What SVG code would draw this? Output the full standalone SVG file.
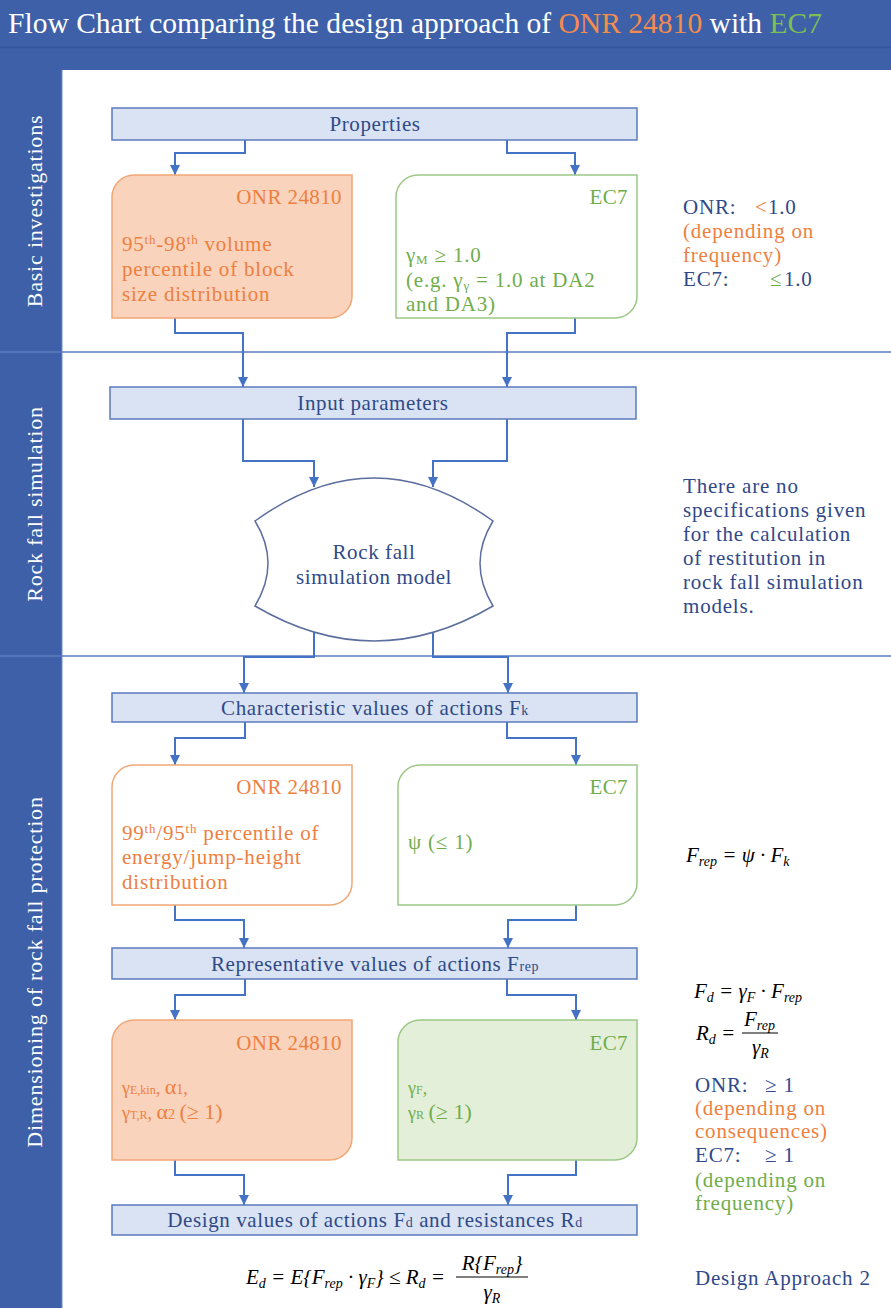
<svg xmlns="http://www.w3.org/2000/svg" width="891" height="1308" viewBox="0 0 891 1308" font-family="'Liberation Serif', 'DejaVu Serif', serif">
<defs>
<marker id="arr" viewBox="0 0 10 10" refX="10" refY="5" markerWidth="10" markerHeight="11" markerUnits="userSpaceOnUse" orient="auto"><path d="M0,0 L10,5 L0,10 Z" fill="#4472C4"/></marker>
<style>
text{font-family:'Liberation Serif','DejaVu Serif',serif}
.t{font-size:21px;letter-spacing:0.8px}
.bar{fill:#DAE3F3;stroke:#5B7BBE;stroke-width:1.5}
.btxt{font-size:21px;fill:#2F4A88;text-anchor:middle;letter-spacing:0.6px}
.hd{font-size:21px;text-anchor:end;letter-spacing:0.4px}
.on{fill:#EE7F3F}
.ec{fill:#6FAD4B}
.bl{fill:#30498A}
.onrbox{stroke:#F2A777;stroke-width:1.5}
.ecbox{stroke:#9CC886;stroke-width:1.5}
.conn path{fill:none;stroke:#4472C4;stroke-width:2;marker-end:url(#arr)}
.m{font-style:italic;font-size:21px;fill:#000}
.side{font-size:22px;fill:#fff;text-anchor:middle;letter-spacing:0.8px}
.sec{stroke:#5B7BBE;stroke-width:1.5}
</style>
</defs>

<!-- background -->
<rect x="0" y="0" width="891" height="1308" fill="#3D60A8"/>
<line x1="0" y1="47.5" x2="891" y2="47.5" stroke="#33569C" stroke-width="1.5"/>
<rect x="62" y="70" width="829" height="1238" fill="#FFFFFF"/>
<line x1="62" y1="70" x2="62" y2="1308" stroke="#6F8ECB" stroke-width="1"/>
<text x="8" y="33" font-size="30" fill="#FFFFFF" textLength="814" lengthAdjust="spacingAndGlyphs">Flow Chart comparing the design approach of <tspan fill="#F58B4C">ONR 24810</tspan> with <tspan fill="#7DBF55">EC7</tspan></text>

<!-- section dividers -->
<g id="sections">
<line class="sec" x1="0" y1="352" x2="891" y2="352"/>
<line class="sec" x1="0" y1="656" x2="891" y2="656"/>
<text class="side" transform="translate(42,211) rotate(-90)">Basic investigations</text>
<text class="side" transform="translate(42,504) rotate(-90)">Rock fall simulation</text>
<text class="side" transform="translate(42,972) rotate(-90)">Dimensioning of rock fall protection</text>
</g>

<!-- connectors -->
<g id="connectors" class="conn">
<path d="M245,140 V153 H175 V175"/>
<path d="M507,140 V153 H575 V175"/>
<path d="M175,318 V333 H243 V387"/>
<path d="M575,318 V333 H507 V387"/>
<path d="M243,419 V461 H314 V487"/>
<path d="M507,419 V461 H433 V487"/>
<path d="M314,632 V657 H244 V693"/>
<path d="M433,632 V657 H508 V693"/>
<path d="M245,722 V738 H175 V765"/>
<path d="M507,722 V738 H576 V765"/>
<path d="M175,905 V920 H244 V948"/>
<path d="M576,905 V920 H508 V948"/>
<path d="M245,979 V995 H175 V1020"/>
<path d="M507,979 V995 H576 V1020"/>
<path d="M175,1160 V1175 H244 V1205"/>
<path d="M576,1160 V1175 H508 V1205"/>
</g>

<!-- Basic investigations -->
<g id="properties">
<rect class="bar" x="112" y="108" width="525" height="32"/>
<text class="btxt" x="375" y="131">Properties</text>
</g>
<g id="onr1">
<path class="onrbox" fill="#FAD3BC" d="M112,197 A22,22 0 0 1 134,175 H352 V296 A22,22 0 0 1 330,318 H112 Z"/>
<text class="hd on" x="342" y="204">ONR 24810</text>
<text class="t on" x="122" y="251">95<tspan font-size="13" dy="-7">th</tspan><tspan dy="7">-98</tspan><tspan font-size="13" dy="-7">th</tspan><tspan dy="7"> volume</tspan></text>
<text class="t on" x="122" y="276">percentile of block</text>
<text class="t on" x="122" y="301">size distribution</text>
</g>
<g id="ec71">
<path class="ecbox" fill="#FFFFFF" d="M396,197 A22,22 0 0 1 418,175 H637 V296 A22,22 0 0 1 615,318 H396 Z"/>
<text class="hd ec" x="628" y="204">EC7</text>
<text class="t ec" x="406" y="262">γ<tspan font-size="13" dy="2">M</tspan><tspan dy="-2"> ≥ 1.0</tspan></text>
<text class="t ec" x="406" y="287">(e.g. γ<tspan font-size="13" dy="3">γ</tspan><tspan dy="-3"> = 1.0 at DA2</tspan></text>
<text class="t ec" x="406" y="311">and DA3)</text>
</g>
<g id="note1" class="t">
<text x="683" y="214" class="t bl">ONR:</text>
<text x="755" y="214" class="t on">&lt;</text>
<text x="768" y="214" class="t bl">1.0</text>
<text x="683" y="238" class="t on">(depending on</text>
<text x="683" y="262" class="t on">frequency)</text>
<text x="683" y="286" class="t bl">EC7:</text>
<text x="770" y="286" class="t ec">≤</text>
<text x="784" y="286" class="t bl">1.0</text>
</g>

<!-- Rock fall simulation -->
<g id="input">
<rect class="bar" x="110" y="387" width="526" height="32"/>
<text class="btxt" x="373" y="410">Input parameters</text>
</g>
<g id="model">
<path d="M255,521 Q374,435 493,521 Q467,563 493,606 Q374,676 255,606 Q281,563 255,521 Z" fill="#FFFFFF" stroke="#5B6E9E" stroke-width="1.5"/>
<text class="btxt" x="374" y="559">Rock fall</text>
<text class="btxt" x="374" y="584">simulation model</text>
</g>
<g id="note2">
<text class="t bl" x="683" y="493">There are no</text>
<text class="t bl" x="683" y="517">specifications given</text>
<text class="t bl" x="683" y="541">for the calculation</text>
<text class="t bl" x="683" y="565">of restitution in</text>
<text class="t bl" x="683" y="589">rock fall simulation</text>
<text class="t bl" x="683" y="613">models.</text>
</g>

<!-- Dimensioning -->
<g id="charval">
<rect class="bar" x="112" y="693" width="525" height="29"/>
<text class="btxt" x="375" y="715">Characteristic values of actions F<tspan font-size="14">k</tspan></text>
</g>
<g id="onr2">
<path class="onrbox" fill="#FFFFFF" d="M112,787 A22,22 0 0 1 134,765 H352 V883 A22,22 0 0 1 330,905 H112 Z"/>
<text class="hd on" x="342" y="794">ONR 24810</text>
<text class="t on" x="122" y="840">99<tspan font-size="13" dy="-7">th</tspan><tspan dy="7">/95</tspan><tspan font-size="13" dy="-7">th</tspan><tspan dy="7"> percentile of</tspan></text>
<text class="t on" x="122" y="864">energy/jump-height</text>
<text class="t on" x="122" y="889">distribution</text>
</g>
<g id="ec72">
<path class="ecbox" fill="#FFFFFF" d="M398,787 A22,22 0 0 1 420,765 H637 V883 A22,22 0 0 1 615,905 H398 Z"/>
<text class="hd ec" x="628" y="794">EC7</text>
<text class="t ec" x="408" y="849">ψ (≤ 1)</text>
</g>
<g id="f1">
<text class="m" x="686" y="862">F<tspan font-size="14" dy="4">rep</tspan><tspan dy="-4"> = ψ · F</tspan><tspan font-size="14" dy="4">k</tspan></text>
</g>

<g id="repval">
<rect class="bar" x="112" y="948" width="525" height="31"/>
<text class="btxt" x="375" y="971">Representative values of actions F<tspan font-size="14">rep</tspan></text>
</g>
<g id="onr3">
<path class="onrbox" fill="#FAD3BC" d="M112,1042 A22,22 0 0 1 134,1020 H352 V1138 A22,22 0 0 1 330,1160 H112 Z"/>
<text class="hd on" x="342" y="1050">ONR 24810</text>
<text class="on" x="122" y="1094" font-size="18">γ<tspan font-size="12">E,kin</tspan>, <tspan font-size="22">α</tspan><tspan font-size="14">1</tspan>,</text>
<text class="on" x="122" y="1119" font-size="18">γ<tspan font-size="12">T,R</tspan>, <tspan font-size="22">α</tspan><tspan font-size="14">2</tspan> <tspan font-size="22">(≥ 1)</tspan></text>
</g>
<g id="ec73">
<path class="ecbox" fill="#E3EFD9" d="M398,1042 A22,22 0 0 1 420,1020 H637 V1138 A22,22 0 0 1 615,1160 H398 Z"/>
<text class="hd ec" x="628" y="1050">EC7</text>
<text class="ec" x="408" y="1094" font-size="18">γ<tspan font-size="12">F</tspan>,</text>
<text class="ec" x="408" y="1119" font-size="18">γ<tspan font-size="12">R</tspan> <tspan font-size="22">(≥ 1)</tspan></text>
</g>
<g id="f2">
<text class="m" x="694" y="998">F<tspan font-size="14" dy="4">d</tspan><tspan dy="-4"> = γ</tspan><tspan font-size="14" dy="4">F</tspan><tspan dy="-4"> · F</tspan><tspan font-size="14" dy="4">rep</tspan></text>
<text class="m" x="696" y="1040">R<tspan font-size="14" dy="4">d</tspan><tspan dy="-4"> =</tspan></text>
<text class="m" x="744" y="1026">F<tspan font-size="14" dy="4">rep</tspan></text>
<line x1="742" y1="1033" x2="778" y2="1033" stroke="#000" stroke-width="1.2"/>
<text class="m" x="752" y="1054">γ<tspan font-size="14" dy="4">R</tspan></text>
</g>
<g id="note3">
<text class="t bl" x="695" y="1092">ONR:</text>
<text class="t bl" x="765" y="1092">≥ 1</text>
<text class="t on" x="695" y="1115">(depending on</text>
<text class="t on" x="695" y="1138">consequences)</text>
<text class="t bl" x="695" y="1162">EC7:</text>
<text class="t bl" x="765" y="1162">≥ 1</text>
<text class="t ec" x="695" y="1187">(depending on</text>
<text class="t ec" x="695" y="1210">frequency)</text>
</g>

<g id="design">
<rect class="bar" x="112" y="1205" width="525" height="30"/>
<text class="btxt" x="375" y="1227">Design values of actions F<tspan font-size="14">d</tspan> and resistances R<tspan font-size="14">d</tspan></text>
</g>
<g id="f3">
<text class="m" x="246" y="1284">E<tspan font-size="14" dy="4">d</tspan><tspan dy="-4"> = E{F</tspan><tspan font-size="14" dy="4">rep</tspan><tspan dy="-4"> · γ</tspan><tspan font-size="14" dy="4">F</tspan><tspan dy="-4">} ≤ R</tspan><tspan font-size="14" dy="4">d</tspan><tspan dy="-4"> =</tspan></text>
<text class="m" x="492" y="1270" text-anchor="middle">R{F<tspan font-size="14" dy="4">rep</tspan><tspan dy="-4">}</tspan></text>
<line x1="456" y1="1277" x2="528" y2="1277" stroke="#000" stroke-width="1.2"/>
<text class="m" x="492" y="1299" text-anchor="middle">γ<tspan font-size="14" dy="4">R</tspan></text>
<text class="t bl" x="695" y="1285">Design Approach 2</text>
</g>
</svg>
